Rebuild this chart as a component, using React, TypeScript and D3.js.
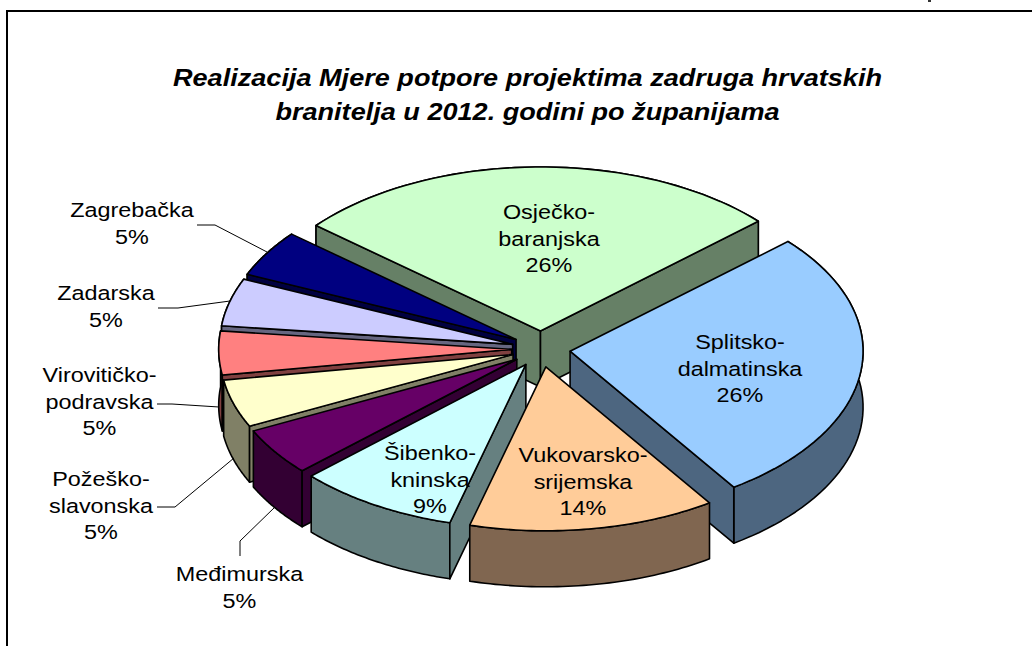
import React from "react";
import * as d3 from "d3";

const categories = ["Osječko-baranjska", "Splitsko-dalmatinska", "Vukovarsko-srijemska", "Šibenko-kninska", "Međimurska", "Požeško-slavonska", "Virovitičko-podravska", "Zadarska", "Zagrebačka"];
// Swept share of each slice
const sliceValues = [27.2, 27.2, 13.6, 8.9, 4.7, 4.7, 4.3, 4.7, 4.6];
const percentLabels = ["26%", "26%", "14%", "9%", "5%", "5%", "5%", "5%", "5%"];
const labelLines = [["Osječko-", "baranjska"], ["Splitsko-", "dalmatinska"], ["Vukovarsko-", "srijemska"], ["Šibenko-", "kninska"], ["Međimurska"], ["Požeško-", "slavonska"], ["Virovitičko-", "podravska"], ["Zadarska"], ["Zagrebačka"]];
const topColors = ["#CCFFCC", "#99CCFF", "#FFCC99", "#CCFFFF", "#660066", "#FFFFCC", "#FF8080", "#CCCCFF", "#000080"];
const sideColors = ["#668066", "#4D6680", "#806650", "#668080", "#330033", "#808066", "#804040", "#666680", "#000040"];
const drawOrder = [0, 1, 8, 7, 6, 5, 4, 3, 2];
const labelPos: [number, number][] = [[549, 219], [740, 349], [583, 462], [430, 460], [239.5, 581], [101, 486], [99.5, 382], [106, 300], [132, 217]];
const leaders: [number, number][][] = [[], [], [], [], [[240, 556], [240, 541], [275, 507]], [[157, 507], [175, 507], [234, 458]], [[157, 404], [172, 404], [219, 407]], [[158, 308], [178, 308], [230, 301]], [[197, 225], [215, 225], [267, 252]]];
const titleLines = ["Realizacija Mjere potpore projektima zadruga hrvatskih", "branitelja u 2012. godini po županijama"];

const FONT = "'Liberation Sans', Arial, sans-serif";
const xS = d3.scaleLinear().domain([-1, 1]).range([541 - 293, 541 + 293]);
const yS = d3.scaleLinear().domain([-1, 1]).range([349 - 164, 349 + 164]);
const depth = 56;
const explodeX = 0.1;
const explodeY = 0.11;
const startA = (-50 * Math.PI) / 180;

const pie = d3.pie<number>().sort(null).startAngle(startA).endAngle(startA + 2 * Math.PI);
const arcs = pie(sliceValues);
const line = d3.line<[number, number]>();

function geom(i: number) {
  const a = arcs[i];
  const mid = (a.startAngle + a.endAngle) / 2;
  const ox = explodeX * Math.sin(mid);
  const oy = -explodeY * Math.cos(mid);
  const apex: [number, number] = [xS(ox), yS(oy)];
  const n = 48;
  const rim: [number, number][] = d3.range(n + 1).map((k) => {
    const t = a.startAngle + ((a.endAngle - a.startAngle) * k) / n;
    return [xS(ox + Math.sin(t)), yS(oy - Math.cos(t))] as [number, number];
  });
  return { apex, rim, a };
}
const down = (p: [number, number]): [number, number] => [p[0], p[1] + depth];

function Slice({ i }: { i: number }) {
  const { apex, rim, a } = geom(i);
  const first = rim[0];
  const last = rim[rim.length - 1];
  const sw = 1.6;
  const common = { stroke: "#000", strokeWidth: sw, strokeLinejoin: "round" as const, fill: sideColors[i] };
  return (
    <g>
      <path d={line([...rim, ...rim.slice().reverse().map(down)]) + "Z"} {...common} />
      {Math.sin(a.startAngle) < 0 && <path d={line([apex, first, down(first), down(apex)]) + "Z"} {...common} />}
      {Math.sin(a.endAngle) > 0 && <path d={line([apex, last, down(last), down(apex)]) + "Z"} {...common} />}
      <path d={line([apex, ...rim]) + "Z"} stroke="#000" strokeWidth={sw} strokeLinejoin="round" fill={topColors[i]} />
    </g>
  );
}

export default function App() {
  return (
    <svg width={1032} height={646} style={{ position: "fixed", left: 0, top: 0, background: "#fff" }}>
      <line x1={6} y1={11} x2={1032} y2={11} stroke="#000" strokeWidth={2} />
      <line x1={7} y1={10} x2={7} y2={646} stroke="#000" strokeWidth={2} />
      <rect x={928} y={0} width={3} height={2} fill="#333" />
      <g fontFamily={FONT} fontWeight="bold" fontStyle="italic" fontSize={23} textAnchor="middle" fill="#000">
        {titleLines.map((t, i) => (
          <text key={i} transform={`translate(527.5,${86 + i * 34}) scale(1.178,1)`}>{t}</text>
        ))}
      </g>
      {drawOrder.map((i) => <Slice key={categories[i]} i={i} />)}
      <g fill="none" stroke="#000" strokeWidth={1}>
        {leaders.map((l, i) => l.length ? <path key={i} d={line(l) as string} /> : null)}
      </g>
      <g fontFamily={FONT} fontSize={19.5} textAnchor="middle" fill="#000">
        {categories.map((c, i) =>
          [...labelLines[i], percentLabels[i]].map((s, k) => (
            <text key={c + k} transform={`translate(${labelPos[i][0]},${labelPos[i][1] + k * 26.7}) scale(1.2,1)`}>{s}</text>
          ))
        )}
      </g>
    </svg>
  );
}
